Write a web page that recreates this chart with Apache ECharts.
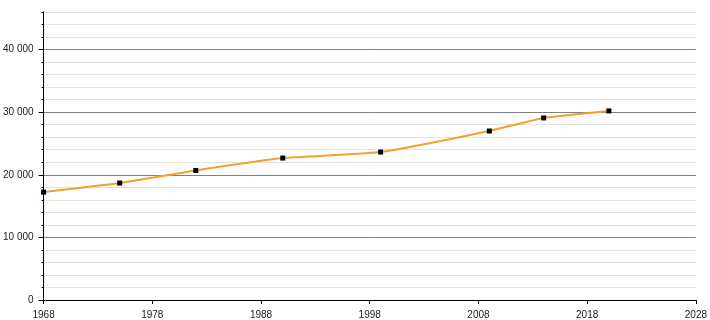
<!DOCTYPE html>
<html><head><meta charset="utf-8">
<script src="https://cdn.jsdelivr.net/npm/echarts@6/dist/echarts.min.js"></script>
<style>html,body{margin:0;padding:0;background:#fff}#c{width:710px;height:320px}</style>
</head><body><div id="c"></div>
<script>
const years = [1968, 1975, 1982, 1990, 1999, 2009, 2014, 2020];
const population = [17230, 18680, 20690, 22670, 23630, 26990, 29080, 30200];
const xTicks = [1968, 1978, 1988, 1998, 2008, 2018, 2028];
const yMajorTicks = [0, 10000, 20000, 30000, 40000];

const fmt = v => String(v).replace(/\B(?=(\d{3})+(?!\d))/g, ' ');
const font = {fontFamily: 'Liberation Sans, Arial, sans-serif', fontSize: 10, color: '#222'};

const chart = echarts.init(document.getElementById('c'), null, {renderer: 'canvas'});
chart.setOption({
  animation: false,
  grid: {left: 42, right: 12, top: 12, bottom: 20, containLabel: false},
  xAxis: {
    type: 'value', min: xTicks[0], max: xTicks[xTicks.length - 1], interval: 10,
    axisLine: {lineStyle: {color: '#000', width: 1}},
    axisTick: {length: 4, lineStyle: {color: '#000'}},
    axisLabel: Object.assign({margin: 10, formatter: v => String(v)}, font),
    splitLine: {show: false}
  },
  yAxis: [{
    type: 'value', min: 0, max: 46000, interval: 2000,
    axisLine: {show: true, lineStyle: {color: '#000', width: 1}},
    axisTick: {show: true, length: 2, lineStyle: {color: '#000'}},
    axisLabel: Object.assign({margin: 10, formatter: v => (yMajorTicks.indexOf(v) >= 0 ? fmt(v) : '')}, font),
    splitLine: {show: true, lineStyle: {color: ['#808080', '#e2e2e2', '#e2e2e2', '#e2e2e2', '#e2e2e2'], width: 1}}
  }, {
    type: 'value', min: 0, max: 46000, position: 'left', offset: 0,
    axisLine: {show: false},
    axisTick: {show: true, length: 5, customValues: yMajorTicks, lineStyle: {color: '#000'}},
    axisLabel: {show: false},
    splitLine: {show: false}
  }],
  series: [{
    type: 'line',
    data: years.map((y, i) => [y, population[i]]),
    smooth: 0.15,
    lineStyle: {color: '#f2a12e', width: 2},
    itemStyle: {color: '#000'},
    symbol: 'rect', symbolSize: 5,
    z: 5
  }]
});
</script>
</body></html>
